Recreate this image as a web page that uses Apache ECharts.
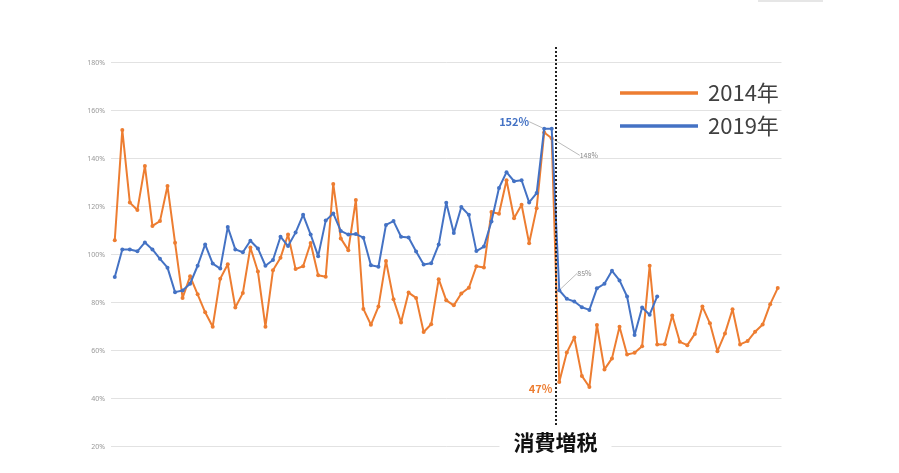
<!DOCTYPE html>
<html><head><meta charset="utf-8">
<script src="https://cdn.jsdelivr.net/npm/echarts@6/dist/echarts.min.js"></script>
<style>html,body{margin:0;padding:0;background:#fff}#c{width:899px;height:473px}</style>
</head><body><div id="c"></div>
<script>
// Weekly sales vs. previous year (%), 2014 and 2019 consumption tax hikes
const series2014 = [106,152,121.7,118.6,137,112,114,128.6,105,82,91,83.5,76,70,90,96,78,84,103,93,
  70,93.5,98.7,108.4,94,95.2,104.9,91.4,90.8,129.5,106.8,101.9,122.8,77.4,70.8,78.4,97.4,81.4,71.8,84.2,
  82,67.8,71,89.8,81,78.9,83.8,86.2,95.2,94.7,117.8,117.1,131,115.2,120.8,104.8,119.4,150.9,148.5,47,
  59.2,65.5,49.5,44.9,70.7,52.2,56.8,70,58.4,59.1,61.9,95.4,62.6,62.7,74.7,63.7,62.3,67,78.4,71.4,
  59.8,67.2,77.3,62.6,64,67.9,70.9,79.4,86.1];
const series2019 = [90.7,102.2,102.2,101.4,105.1,102.2,98.3,94.6,84.4,85.1,87.9,95.4,104.3,96.3,94.2,111.5,102.2,101,105.8,102.6,
  95.4,97.8,107.5,103.6,109.2,116.6,108.4,99.4,114.2,117.2,109.9,108.4,108.6,107.1,95.6,95,112.4,114,107.5,107.2,
  101.3,95.9,96.4,104.2,121.6,109,119.9,116.6,101.5,103.4,113.8,127.8,134.4,130.6,131,121.8,125.7,152.5,152.5,85.2,
  81.6,80.5,78.1,77,86,87.9,93.3,89.3,82.6,66.5,78,75,82.6];
const seriesNames = ['2014年','2019年'];
const taxHikeIndex = 58.5;           // between the last pre-hike and first post-hike week
const taxHikeText = '消費増税';
const yTickMin = 20, yTickMax = 180, yTickStep = 20;
// annotated points: [seriesIndex, dataIndex, text]
const annotations = [[1,57,'152%'],[0,58,'148%'],[1,59,'85%'],[0,59,'47%']];

const ORANGE = '#ED7D31', BLUE = '#4472C4';
const annStyle = {
  '1-57': {label:{position:'left',distance:5,fontSize:11,fontWeight:'bold',color:BLUE}, dx:-8, dy:-7, line:true},
  '0-58': {label:{position:'right',distance:5,fontSize:7,color:'#888'}, dx:21, dy:17, line:true},
  '1-59': {label:{position:'right',distance:5,fontSize:7,color:'#888'}, dx:11, dy:-17, line:true},
  '0-59': {label:{position:'left',distance:5,fontSize:11,fontWeight:'bold',color:ORANGE}, dx:0, dy:7, line:false}
};

function buildData(arr, si){
  return arr.map((v,i)=>{
    const a = annotations.find(x=>x[0]===si && x[1]===i);
    if(!a) return [i,v];
    const st = annStyle[si+'-'+i];
    return {value:[i,v],
      label:Object.assign({show:true, formatter:a[2], fontFamily:'Noto Sans CJK JP'}, st.label),
      labelLine:{show:st.line, minTurnAngle:0, lineStyle:{color:'#bbb', width:1}}};
  });
}
function layoutFor(si){
  return function(p){
    const st = annStyle[si+'-'+p.dataIndex];
    if(!st) return {};
    return {dx:st.dx, dy:st.dy};
  };
}

const chart = echarts.init(document.getElementById('c'), null, {renderer:'canvas'});
const n = series2014.length;
chart.setOption({
  animation:false,
  backgroundColor:'#fff',
  graphic:[{type:'rect', left:758, top:0, shape:{width:65, height:2}, style:{fill:'#e6e6e6'}, silent:true}],
  grid:[
    {left:111, right:117.5, top:62.7, bottom:26.3},
    {left:111, right:117.5, top:45, bottom:48}
  ],
  legend:{
    data:seriesNames, orient:'vertical', left:620, top:82, padding:0,
    icon:'rect', itemWidth:78, itemHeight:3.5, itemGap:11,
    textStyle:{fontSize:22, lineHeight:22, color:'#404040', fontFamily:'Noto Sans CJK JP', padding:[0,0,0,5]}
  },
  xAxis:[
    {type:'value', gridIndex:0, min:-0.5, max:n-0.5, show:true,
     axisLine:{show:false}, axisTick:{show:false}, axisLabel:{show:false}, splitLine:{show:false}},
    {type:'value', gridIndex:1, min:-0.5, max:n-0.5, show:false}
  ],
  yAxis:[
    {type:'value', gridIndex:0, min:yTickMin, max:yTickMax, interval:yTickStep,
     axisLine:{show:false}, axisTick:{show:false},
     axisLabel:{formatter:'{value}%', fontSize:7, color:'#999', margin:6, fontFamily:'Noto Sans'},
     splitLine:{lineStyle:{color:'#e2e2e2', width:1}}},
    {type:'value', gridIndex:1, min:0, max:1, show:false}
  ],
  series:[
    {name:seriesNames[0], type:'line', data:buildData(series2014,0),
     symbol:'circle', symbolSize:4, showAllSymbol:true,
     lineStyle:{color:ORANGE, width:2}, itemStyle:{color:ORANGE},
     labelLayout:layoutFor(0), z:3},
    {name:seriesNames[1], type:'line', data:buildData(series2019,1),
     symbol:'circle', symbolSize:4, showAllSymbol:true,
     lineStyle:{color:BLUE, width:2}, itemStyle:{color:BLUE},
     labelLayout:layoutFor(1), z:4},
    {name:'hike', type:'line', xAxisIndex:1, yAxisIndex:1, data:[], silent:true,
     markLine:{silent:true, symbol:['none','none'],
       lineStyle:{color:'#222', width:2, type:[2,2]},
       label:{show:true, position:'start', formatter:taxHikeText, distance:5,
         fontSize:21, fontWeight:'bold', color:'#111', fontFamily:'Noto Sans CJK JP',
         backgroundColor:'#fff', padding:[2,14]},
       data:[{xAxis:taxHikeIndex}]}}
  ]
});
</script></body></html>
